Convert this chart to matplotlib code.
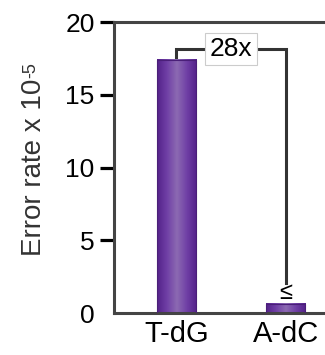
import numpy as np
from matplotlib import pyplot as plt
from matplotlib.colors import LinearSegmentedColormap

categories = ['T-dG', 'A-dC']
error_rates = [17.4, 0.62]
fold_label = '28x'
y_ticks = [0, 5, 10, 15, 20]

plt.rcParams['font.family'] = ['Liberation Sans', 'DejaVu Sans']

fig = plt.figure(figsize=(3.25, 3.55), dpi=100)
ax = fig.add_axes([0.351, 0.118, 0.649, 0.82])

bar_width = 0.36
bars = ax.bar(range(len(categories)), error_rates, width=bar_width,
              color='none', edgecolor='#4a1f78', linewidth=0.8, zorder=3)

# purple gradient, lighter toward the middle of each bar
cmap = LinearSegmentedColormap.from_list(
    'bar', ['#54228a', '#7040a6', '#8c6ab2', '#7040a6', '#54228a'])
grad = np.linspace(0, 1, 64).reshape(1, -1)
for b in bars:
    x0, y0 = b.get_x(), b.get_y()
    ax.imshow(grad, cmap=cmap, aspect='auto', zorder=2,
              extent=[x0, x0 + b.get_width(), y0, y0 + b.get_height()])

ax.set_xlim(-0.57, 1.36)
ax.set_ylim(0, 20)
ax.set_yticks(y_ticks)
ax.set_xticks(range(len(categories)))
ax.set_xticklabels(categories, fontsize=21)
ax.tick_params(axis='x', length=0, pad=5)
ax.tick_params(axis='y', length=10, width=2.3, color='black',
               labelsize=19, pad=4)
ax.yaxis.get_major_ticks()[0].tick1line.set_visible(False)
ax.set_ylabel('Error rate x 10', fontsize=20, color='#333333',
              labelpad=13)

for side in ['left', 'top', 'bottom']:
    ax.spines[side].set_color('#444444')
    ax.spines[side].set_linewidth(2.2)
ax.spines['right'].set_visible(False)

# fold-change bracket
bx = [0, 0, 1, 1]
by = [error_rates[0] + 0.2, 18.15, 18.15, 2.1]
ax.plot(bx, by, color='#333333', lw=2.2, zorder=4, solid_joinstyle='miter')
ax.text(0.5, 18.15, fold_label, ha='center', va='center', fontsize=19,
        zorder=5, bbox=dict(facecolor='white', edgecolor='#cccccc',
                            linewidth=0.8, pad=3))
ax.text(1, 1.35, '≤', ha='center', va='center', fontsize=17, zorder=5)

# superscript "-5" after the rotated y label
fig.canvas.draw()
lb = ax.yaxis.label.get_window_extent()
fig.text((lb.x0 + 1) / fig.bbox.width, (lb.y1 + 1) / fig.bbox.height, '-5',
         rotation=90, ha='left', va='bottom', fontsize=13, color='#333333')

fig.savefig('out.png', dpi=100)
